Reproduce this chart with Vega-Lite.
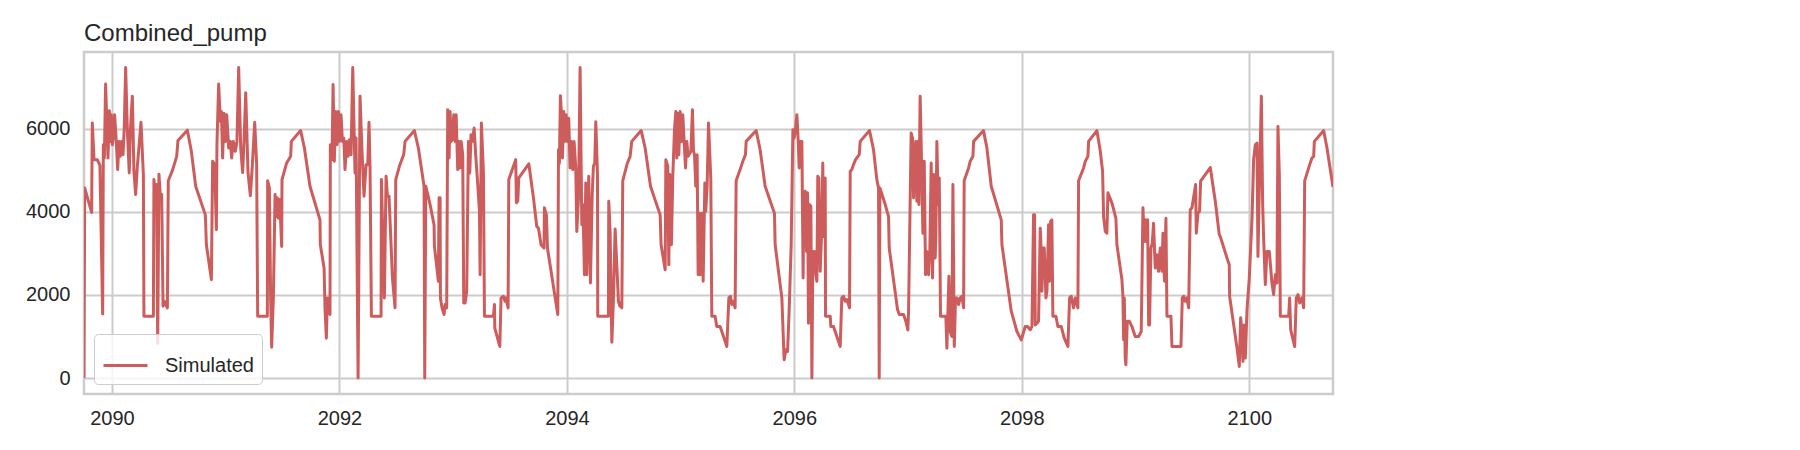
{
  "$schema": "https://vega.github.io/schema/vega-lite/v6.json",
  "autosize": "none",
  "width": 1249,
  "height": 342,
  "padding": {"left": 84, "top": 52, "right": 467, "bottom": 56},
  "background": "white",
  "title": {
    "text": "Combined_pump",
    "anchor": "start",
    "frame": "group",
    "baseline": "alphabetic",
    "offset": 10,
    "dy": 23,
    "fontSize": 24,
    "fontWeight": "normal",
    "font": "Liberation Sans",
    "color": "#262626"
  },
  "data": {
    "values": [
      {"time": 2089.754, "value": 0}, {"time": 2089.760, "value": 4580}, {"time": 2089.821, "value": 3990},
      {"time": 2089.827, "value": 6140}, {"time": 2089.842, "value": 5260}, {"time": 2089.871, "value": 5260},
      {"time": 2089.894, "value": 5120}, {"time": 2089.918, "value": 1540}, {"time": 2089.924, "value": 5620},
      {"time": 2089.933, "value": 5300}, {"time": 2089.944, "value": 7080}, {"time": 2089.965, "value": 5300},
      {"time": 2089.977, "value": 6440}, {"time": 2089.985, "value": 5700}, {"time": 2089.994, "value": 6340},
      {"time": 2090.003, "value": 5620}, {"time": 2090.009, "value": 5740}, {"time": 2090.023, "value": 6340},
      {"time": 2090.038, "value": 5700}, {"time": 2090.050, "value": 5020}, {"time": 2090.062, "value": 5700},
      {"time": 2090.073, "value": 5340}, {"time": 2090.085, "value": 5700}, {"time": 2090.097, "value": 5380},
      {"time": 2090.108, "value": 6020}, {"time": 2090.120, "value": 7480}, {"time": 2090.135, "value": 5980},
      {"time": 2090.152, "value": 4940}, {"time": 2090.161, "value": 5940}, {"time": 2090.179, "value": 6790},
      {"time": 2090.193, "value": 4980}, {"time": 2090.208, "value": 4420}, {"time": 2090.223, "value": 5100},
      {"time": 2090.255, "value": 6160}, {"time": 2090.276, "value": 4900}, {"time": 2090.281, "value": 1490},
      {"time": 2090.364, "value": 1490}, {"time": 2090.369, "value": 4780}, {"time": 2090.381, "value": 4260},
      {"time": 2090.393, "value": 4660}, {"time": 2090.402, "value": 830}, {"time": 2090.413, "value": 4910},
      {"time": 2090.425, "value": 4380}, {"time": 2090.437, "value": 4420}, {"time": 2090.449, "value": 1730},
      {"time": 2090.460, "value": 1850}, {"time": 2090.487, "value": 1690}, {"time": 2090.495, "value": 4750},
      {"time": 2090.534, "value": 5020}, {"time": 2090.569, "value": 5340}, {"time": 2090.580, "value": 5720},
      {"time": 2090.663, "value": 5970}, {"time": 2090.698, "value": 5460}, {"time": 2090.736, "value": 4620},
      {"time": 2090.821, "value": 3930}, {"time": 2090.830, "value": 3210}, {"time": 2090.874, "value": 2370},
      {"time": 2090.885, "value": 5220}, {"time": 2090.903, "value": 5140}, {"time": 2090.918, "value": 3570},
      {"time": 2090.923, "value": 5620}, {"time": 2090.938, "value": 7080}, {"time": 2090.953, "value": 6180},
      {"time": 2090.962, "value": 6420}, {"time": 2090.973, "value": 5300}, {"time": 2090.985, "value": 6380},
      {"time": 2090.997, "value": 5700}, {"time": 2091.009, "value": 6340}, {"time": 2091.026, "value": 5540},
      {"time": 2091.041, "value": 5700}, {"time": 2091.052, "value": 5300}, {"time": 2091.067, "value": 5700},
      {"time": 2091.085, "value": 5460}, {"time": 2091.099, "value": 5700}, {"time": 2091.114, "value": 7480},
      {"time": 2091.132, "value": 5540}, {"time": 2091.149, "value": 4950}, {"time": 2091.161, "value": 5700},
      {"time": 2091.176, "value": 6870}, {"time": 2091.196, "value": 4950}, {"time": 2091.217, "value": 4390},
      {"time": 2091.234, "value": 5120}, {"time": 2091.255, "value": 6160}, {"time": 2091.272, "value": 5140},
      {"time": 2091.281, "value": 1490}, {"time": 2091.366, "value": 1490}, {"time": 2091.369, "value": 4750},
      {"time": 2091.384, "value": 4580}, {"time": 2091.395, "value": 1930}, {"time": 2091.404, "value": 740},
      {"time": 2091.419, "value": 1930}, {"time": 2091.434, "value": 4420}, {"time": 2091.442, "value": 3890},
      {"time": 2091.454, "value": 4340}, {"time": 2091.463, "value": 3850}, {"time": 2091.475, "value": 4300},
      {"time": 2091.492, "value": 3170}, {"time": 2091.495, "value": 4780}, {"time": 2091.536, "value": 5180},
      {"time": 2091.571, "value": 5340}, {"time": 2091.577, "value": 5700}, {"time": 2091.659, "value": 5960},
      {"time": 2091.692, "value": 5540}, {"time": 2091.741, "value": 4620}, {"time": 2091.829, "value": 3810},
      {"time": 2091.832, "value": 3210}, {"time": 2091.865, "value": 2650}, {"time": 2091.873, "value": 1690},
      {"time": 2091.885, "value": 960}, {"time": 2091.894, "value": 1930}, {"time": 2091.909, "value": 1850},
      {"time": 2091.917, "value": 1530}, {"time": 2091.920, "value": 5620}, {"time": 2091.935, "value": 5260},
      {"time": 2091.944, "value": 7070}, {"time": 2091.955, "value": 5220}, {"time": 2091.967, "value": 6420},
      {"time": 2091.979, "value": 5620}, {"time": 2091.991, "value": 6420}, {"time": 2091.999, "value": 5700},
      {"time": 2092.014, "value": 6340}, {"time": 2092.026, "value": 5700}, {"time": 2092.038, "value": 5780},
      {"time": 2092.049, "value": 5020}, {"time": 2092.064, "value": 5700}, {"time": 2092.076, "value": 5340},
      {"time": 2092.087, "value": 5740}, {"time": 2092.102, "value": 5380}, {"time": 2092.117, "value": 7480},
      {"time": 2092.137, "value": 4940}, {"time": 2092.146, "value": 5780}, {"time": 2092.164, "value": 0},
      {"time": 2092.181, "value": 6790}, {"time": 2092.196, "value": 5620}, {"time": 2092.216, "value": 4380},
      {"time": 2092.234, "value": 5140}, {"time": 2092.249, "value": 5140}, {"time": 2092.260, "value": 6160},
      {"time": 2092.269, "value": 5060}, {"time": 2092.281, "value": 1490}, {"time": 2092.366, "value": 1490},
      {"time": 2092.369, "value": 4780}, {"time": 2092.395, "value": 1930}, {"time": 2092.410, "value": 4860},
      {"time": 2092.422, "value": 4380}, {"time": 2092.436, "value": 4380}, {"time": 2092.466, "value": 2410},
      {"time": 2092.489, "value": 1690}, {"time": 2092.495, "value": 4780}, {"time": 2092.527, "value": 5100},
      {"time": 2092.548, "value": 5260}, {"time": 2092.565, "value": 5380}, {"time": 2092.577, "value": 5700},
      {"time": 2092.659, "value": 5960}, {"time": 2092.694, "value": 5540}, {"time": 2092.744, "value": 4620},
      {"time": 2092.750, "value": 0}, {"time": 2092.759, "value": 4620}, {"time": 2092.797, "value": 4180},
      {"time": 2092.826, "value": 3770}, {"time": 2092.832, "value": 3690}, {"time": 2092.835, "value": 3170},
      {"time": 2092.870, "value": 2330}, {"time": 2092.876, "value": 4340}, {"time": 2092.885, "value": 4340},
      {"time": 2092.888, "value": 1930}, {"time": 2092.902, "value": 1690}, {"time": 2092.920, "value": 1530},
      {"time": 2092.929, "value": 1770}, {"time": 2092.943, "value": 1690}, {"time": 2092.952, "value": 6460},
      {"time": 2092.964, "value": 5300}, {"time": 2092.973, "value": 6420}, {"time": 2092.982, "value": 5700},
      {"time": 2092.993, "value": 5740}, {"time": 2093.005, "value": 6340}, {"time": 2093.017, "value": 5700},
      {"time": 2093.026, "value": 6340}, {"time": 2093.040, "value": 5020}, {"time": 2093.052, "value": 5700},
      {"time": 2093.061, "value": 5060}, {"time": 2093.070, "value": 5700}, {"time": 2093.084, "value": 5380},
      {"time": 2093.093, "value": 1810}, {"time": 2093.105, "value": 1810}, {"time": 2093.119, "value": 2090},
      {"time": 2093.134, "value": 5700}, {"time": 2093.146, "value": 4940}, {"time": 2093.157, "value": 5860},
      {"time": 2093.169, "value": 5700}, {"time": 2093.184, "value": 6020}, {"time": 2093.198, "value": 5380},
      {"time": 2093.216, "value": 4660}, {"time": 2093.231, "value": 4020}, {"time": 2093.237, "value": 2490},
      {"time": 2093.248, "value": 6140}, {"time": 2093.266, "value": 4940}, {"time": 2093.275, "value": 1490},
      {"time": 2093.354, "value": 1490}, {"time": 2093.363, "value": 1770}, {"time": 2093.366, "value": 1200},
      {"time": 2093.410, "value": 760}, {"time": 2093.421, "value": 1930}, {"time": 2093.442, "value": 1970},
      {"time": 2093.456, "value": 1850}, {"time": 2093.465, "value": 1930}, {"time": 2093.483, "value": 1690},
      {"time": 2093.489, "value": 4780}, {"time": 2093.550, "value": 5260}, {"time": 2093.556, "value": 4220},
      {"time": 2093.568, "value": 4260}, {"time": 2093.577, "value": 4820}, {"time": 2093.665, "value": 5160},
      {"time": 2093.706, "value": 4340}, {"time": 2093.735, "value": 3650}, {"time": 2093.750, "value": 3610},
      {"time": 2093.773, "value": 3210}, {"time": 2093.799, "value": 3130}, {"time": 2093.802, "value": 4100},
      {"time": 2093.820, "value": 3930}, {"time": 2093.829, "value": 3130}, {"time": 2093.920, "value": 1530},
      {"time": 2093.926, "value": 5500}, {"time": 2093.934, "value": 5170}, {"time": 2093.943, "value": 6800},
      {"time": 2093.955, "value": 6220}, {"time": 2093.961, "value": 5300}, {"time": 2093.972, "value": 6420},
      {"time": 2093.981, "value": 5700}, {"time": 2093.993, "value": 6340}, {"time": 2094.005, "value": 5700},
      {"time": 2094.016, "value": 6260}, {"time": 2094.028, "value": 5060}, {"time": 2094.040, "value": 5700},
      {"time": 2094.052, "value": 5020}, {"time": 2094.063, "value": 5700}, {"time": 2094.078, "value": 5060},
      {"time": 2094.087, "value": 3530}, {"time": 2094.102, "value": 4340}, {"time": 2094.116, "value": 7480},
      {"time": 2094.131, "value": 3690}, {"time": 2094.140, "value": 4180}, {"time": 2094.148, "value": 3290},
      {"time": 2094.154, "value": 2490}, {"time": 2094.166, "value": 4700}, {"time": 2094.175, "value": 2490},
      {"time": 2094.192, "value": 4860}, {"time": 2094.207, "value": 2290}, {"time": 2094.222, "value": 4380},
      {"time": 2094.233, "value": 5100}, {"time": 2094.245, "value": 5180}, {"time": 2094.254, "value": 6170},
      {"time": 2094.269, "value": 4900}, {"time": 2094.271, "value": 1490}, {"time": 2094.365, "value": 1490},
      {"time": 2094.368, "value": 4260}, {"time": 2094.380, "value": 3510}, {"time": 2094.395, "value": 860},
      {"time": 2094.409, "value": 1900}, {"time": 2094.424, "value": 3590}, {"time": 2094.439, "value": 2710},
      {"time": 2094.453, "value": 1850}, {"time": 2094.465, "value": 1730}, {"time": 2094.474, "value": 1810},
      {"time": 2094.483, "value": 1690}, {"time": 2094.491, "value": 4750}, {"time": 2094.532, "value": 5180},
      {"time": 2094.556, "value": 5340}, {"time": 2094.570, "value": 5700}, {"time": 2094.653, "value": 5960},
      {"time": 2094.688, "value": 5540}, {"time": 2094.735, "value": 4620}, {"time": 2094.820, "value": 3930},
      {"time": 2094.828, "value": 3210}, {"time": 2094.864, "value": 2610}, {"time": 2094.870, "value": 5260},
      {"time": 2094.887, "value": 5100}, {"time": 2094.896, "value": 2730}, {"time": 2094.905, "value": 4900},
      {"time": 2094.919, "value": 3210}, {"time": 2094.931, "value": 4860}, {"time": 2094.946, "value": 5980},
      {"time": 2094.958, "value": 6420}, {"time": 2094.966, "value": 5300}, {"time": 2094.975, "value": 6380},
      {"time": 2094.984, "value": 5380}, {"time": 2094.996, "value": 6420}, {"time": 2095.007, "value": 5700},
      {"time": 2095.019, "value": 6340}, {"time": 2095.031, "value": 5700}, {"time": 2095.043, "value": 5060},
      {"time": 2095.054, "value": 5700}, {"time": 2095.066, "value": 5340}, {"time": 2095.090, "value": 5460},
      {"time": 2095.104, "value": 6460}, {"time": 2095.113, "value": 5460}, {"time": 2095.122, "value": 5380},
      {"time": 2095.133, "value": 4620}, {"time": 2095.145, "value": 5380}, {"time": 2095.154, "value": 2490},
      {"time": 2095.166, "value": 3970}, {"time": 2095.174, "value": 2490}, {"time": 2095.189, "value": 3970},
      {"time": 2095.198, "value": 2330}, {"time": 2095.213, "value": 4700}, {"time": 2095.221, "value": 4020},
      {"time": 2095.233, "value": 4620}, {"time": 2095.245, "value": 6140}, {"time": 2095.265, "value": 4820},
      {"time": 2095.274, "value": 1490}, {"time": 2095.303, "value": 1490}, {"time": 2095.318, "value": 1240},
      {"time": 2095.347, "value": 1240}, {"time": 2095.377, "value": 1000}, {"time": 2095.406, "value": 760},
      {"time": 2095.424, "value": 1930}, {"time": 2095.438, "value": 1970}, {"time": 2095.450, "value": 1770},
      {"time": 2095.462, "value": 1850}, {"time": 2095.479, "value": 1690}, {"time": 2095.488, "value": 4750},
      {"time": 2095.523, "value": 5020}, {"time": 2095.547, "value": 5220}, {"time": 2095.570, "value": 5380},
      {"time": 2095.576, "value": 5700}, {"time": 2095.664, "value": 5960}, {"time": 2095.699, "value": 5500},
      {"time": 2095.743, "value": 4620}, {"time": 2095.825, "value": 3970}, {"time": 2095.831, "value": 3210},
      {"time": 2095.890, "value": 1930}, {"time": 2095.910, "value": 440}, {"time": 2095.913, "value": 480},
      {"time": 2095.925, "value": 680}, {"time": 2095.940, "value": 640}, {"time": 2095.954, "value": 1610},
      {"time": 2095.972, "value": 3210}, {"time": 2095.987, "value": 5980}, {"time": 2095.998, "value": 5780},
      {"time": 2096.010, "value": 5980}, {"time": 2096.022, "value": 6340}, {"time": 2096.034, "value": 5700},
      {"time": 2096.042, "value": 5060}, {"time": 2096.054, "value": 5700}, {"time": 2096.066, "value": 5700},
      {"time": 2096.077, "value": 2410}, {"time": 2096.083, "value": 4460}, {"time": 2096.095, "value": 4500},
      {"time": 2096.107, "value": 3050}, {"time": 2096.116, "value": 4460}, {"time": 2096.124, "value": 1320},
      {"time": 2096.133, "value": 4180}, {"time": 2096.145, "value": 4140}, {"time": 2096.154, "value": 0},
      {"time": 2096.163, "value": 3050}, {"time": 2096.171, "value": 2570}, {"time": 2096.180, "value": 3050},
      {"time": 2096.189, "value": 2490}, {"time": 2096.198, "value": 2330}, {"time": 2096.206, "value": 4860},
      {"time": 2096.215, "value": 4820}, {"time": 2096.227, "value": 2570}, {"time": 2096.239, "value": 3450},
      {"time": 2096.250, "value": 5180}, {"time": 2096.256, "value": 3410}, {"time": 2096.271, "value": 4820},
      {"time": 2096.274, "value": 1490}, {"time": 2096.315, "value": 1490}, {"time": 2096.321, "value": 1240},
      {"time": 2096.344, "value": 1240}, {"time": 2096.359, "value": 1120}, {"time": 2096.403, "value": 760},
      {"time": 2096.417, "value": 1930}, {"time": 2096.432, "value": 1970}, {"time": 2096.447, "value": 1850},
      {"time": 2096.461, "value": 1890}, {"time": 2096.485, "value": 1690}, {"time": 2096.491, "value": 4980},
      {"time": 2096.505, "value": 5020}, {"time": 2096.520, "value": 5140}, {"time": 2096.538, "value": 5260},
      {"time": 2096.570, "value": 5380}, {"time": 2096.579, "value": 5700}, {"time": 2096.661, "value": 5960},
      {"time": 2096.696, "value": 5500}, {"time": 2096.725, "value": 4780}, {"time": 2096.740, "value": 4580},
      {"time": 2096.746, "value": 0}, {"time": 2096.752, "value": 4580}, {"time": 2096.790, "value": 4260},
      {"time": 2096.828, "value": 3890}, {"time": 2096.834, "value": 3130}, {"time": 2096.907, "value": 1650},
      {"time": 2096.922, "value": 1530}, {"time": 2096.960, "value": 1530}, {"time": 2096.980, "value": 1370},
      {"time": 2096.998, "value": 1160}, {"time": 2097.004, "value": 1610}, {"time": 2097.027, "value": 5900},
      {"time": 2097.039, "value": 5780}, {"time": 2097.048, "value": 4340}, {"time": 2097.057, "value": 5300},
      {"time": 2097.068, "value": 5700}, {"time": 2097.077, "value": 4260}, {"time": 2097.086, "value": 5700},
      {"time": 2097.095, "value": 4180}, {"time": 2097.106, "value": 6790}, {"time": 2097.118, "value": 5220},
      {"time": 2097.130, "value": 3490}, {"time": 2097.142, "value": 5220}, {"time": 2097.153, "value": 2490},
      {"time": 2097.165, "value": 3050}, {"time": 2097.180, "value": 2490}, {"time": 2097.191, "value": 3050},
      {"time": 2097.203, "value": 5180}, {"time": 2097.215, "value": 2410}, {"time": 2097.227, "value": 4900},
      {"time": 2097.238, "value": 2890}, {"time": 2097.244, "value": 3410}, {"time": 2097.253, "value": 5700},
      {"time": 2097.265, "value": 4180}, {"time": 2097.274, "value": 4820}, {"time": 2097.285, "value": 1490},
      {"time": 2097.332, "value": 1490}, {"time": 2097.341, "value": 720}, {"time": 2097.359, "value": 2450},
      {"time": 2097.370, "value": 1120}, {"time": 2097.385, "value": 1000}, {"time": 2097.394, "value": 4660},
      {"time": 2097.406, "value": 760}, {"time": 2097.417, "value": 1930}, {"time": 2097.429, "value": 1930},
      {"time": 2097.444, "value": 1770}, {"time": 2097.458, "value": 1930}, {"time": 2097.473, "value": 1970},
      {"time": 2097.488, "value": 1690}, {"time": 2097.493, "value": 4750}, {"time": 2097.532, "value": 5060},
      {"time": 2097.546, "value": 5220}, {"time": 2097.570, "value": 5340}, {"time": 2097.576, "value": 5700},
      {"time": 2097.663, "value": 5960}, {"time": 2097.693, "value": 5540}, {"time": 2097.731, "value": 4620},
      {"time": 2097.819, "value": 3810}, {"time": 2097.825, "value": 3210}, {"time": 2097.907, "value": 1610},
      {"time": 2097.957, "value": 1120}, {"time": 2097.995, "value": 920}, {"time": 2098.030, "value": 1240},
      {"time": 2098.051, "value": 1240}, {"time": 2098.074, "value": 1160}, {"time": 2098.089, "value": 1240},
      {"time": 2098.103, "value": 3930}, {"time": 2098.112, "value": 3930}, {"time": 2098.118, "value": 1280},
      {"time": 2098.133, "value": 1320}, {"time": 2098.147, "value": 1370}, {"time": 2098.162, "value": 3610},
      {"time": 2098.168, "value": 3210}, {"time": 2098.177, "value": 2090}, {"time": 2098.185, "value": 3130},
      {"time": 2098.197, "value": 3130}, {"time": 2098.212, "value": 1930}, {"time": 2098.221, "value": 2090},
      {"time": 2098.235, "value": 3690}, {"time": 2098.244, "value": 2330}, {"time": 2098.253, "value": 3770},
      {"time": 2098.264, "value": 3810}, {"time": 2098.273, "value": 1490}, {"time": 2098.300, "value": 1490},
      {"time": 2098.317, "value": 1240}, {"time": 2098.347, "value": 1240}, {"time": 2098.373, "value": 960},
      {"time": 2098.405, "value": 760}, {"time": 2098.420, "value": 1930}, {"time": 2098.434, "value": 1970},
      {"time": 2098.455, "value": 1690}, {"time": 2098.470, "value": 1930}, {"time": 2098.493, "value": 1690},
      {"time": 2098.499, "value": 4750}, {"time": 2098.543, "value": 5060}, {"time": 2098.558, "value": 5220},
      {"time": 2098.581, "value": 5340}, {"time": 2098.587, "value": 5700}, {"time": 2098.660, "value": 5960},
      {"time": 2098.690, "value": 5460}, {"time": 2098.710, "value": 4980}, {"time": 2098.719, "value": 3890},
      {"time": 2098.734, "value": 3530}, {"time": 2098.748, "value": 3490}, {"time": 2098.757, "value": 4460},
      {"time": 2098.792, "value": 4220}, {"time": 2098.827, "value": 3850}, {"time": 2098.836, "value": 3210},
      {"time": 2098.880, "value": 2370}, {"time": 2098.889, "value": 1970}, {"time": 2098.895, "value": 920},
      {"time": 2098.901, "value": 1930}, {"time": 2098.909, "value": 480}, {"time": 2098.915, "value": 320},
      {"time": 2098.927, "value": 1370}, {"time": 2098.945, "value": 1370}, {"time": 2098.968, "value": 1240},
      {"time": 2098.997, "value": 1000}, {"time": 2099.027, "value": 1000}, {"time": 2099.050, "value": 1120},
      {"time": 2099.065, "value": 4100}, {"time": 2099.076, "value": 3290}, {"time": 2099.085, "value": 3810},
      {"time": 2099.094, "value": 3290}, {"time": 2099.106, "value": 3810}, {"time": 2099.115, "value": 1280},
      {"time": 2099.123, "value": 1280}, {"time": 2099.135, "value": 3130}, {"time": 2099.147, "value": 3250},
      {"time": 2099.158, "value": 3730}, {"time": 2099.173, "value": 2650}, {"time": 2099.188, "value": 2970},
      {"time": 2099.202, "value": 2570}, {"time": 2099.217, "value": 3130}, {"time": 2099.232, "value": 2570},
      {"time": 2099.241, "value": 3490}, {"time": 2099.247, "value": 2810}, {"time": 2099.255, "value": 2330},
      {"time": 2099.267, "value": 3850}, {"time": 2099.276, "value": 1490}, {"time": 2099.311, "value": 1490},
      {"time": 2099.320, "value": 760}, {"time": 2099.399, "value": 760}, {"time": 2099.411, "value": 1930},
      {"time": 2099.423, "value": 1970}, {"time": 2099.437, "value": 1850}, {"time": 2099.452, "value": 1930},
      {"time": 2099.467, "value": 1690}, {"time": 2099.481, "value": 4060}, {"time": 2099.496, "value": 4100},
      {"time": 2099.528, "value": 4660}, {"time": 2099.534, "value": 3490}, {"time": 2099.549, "value": 3970},
      {"time": 2099.563, "value": 4020}, {"time": 2099.572, "value": 4740}, {"time": 2099.657, "value": 5070},
      {"time": 2099.701, "value": 4260}, {"time": 2099.736, "value": 3450}, {"time": 2099.745, "value": 3410},
      {"time": 2099.804, "value": 2890}, {"time": 2099.824, "value": 2730}, {"time": 2099.827, "value": 1970},
      {"time": 2099.892, "value": 720}, {"time": 2099.912, "value": 280}, {"time": 2099.924, "value": 1450},
      {"time": 2099.935, "value": 1160}, {"time": 2099.944, "value": 400}, {"time": 2099.956, "value": 1280},
      {"time": 2099.965, "value": 480}, {"time": 2099.980, "value": 1650}, {"time": 2100.000, "value": 2410},
      {"time": 2100.024, "value": 3850}, {"time": 2100.038, "value": 5260}, {"time": 2100.053, "value": 5620},
      {"time": 2100.068, "value": 5660}, {"time": 2100.076, "value": 2930}, {"time": 2100.085, "value": 4180},
      {"time": 2100.106, "value": 6790}, {"time": 2100.117, "value": 4260}, {"time": 2100.126, "value": 3370},
      {"time": 2100.141, "value": 2250}, {"time": 2100.155, "value": 3050}, {"time": 2100.176, "value": 3050},
      {"time": 2100.199, "value": 2290}, {"time": 2100.214, "value": 2010}, {"time": 2100.229, "value": 2490},
      {"time": 2100.243, "value": 2290}, {"time": 2100.252, "value": 6060}, {"time": 2100.264, "value": 4900},
      {"time": 2100.273, "value": 1490}, {"time": 2100.346, "value": 1490}, {"time": 2100.355, "value": 1930},
      {"time": 2100.364, "value": 1160}, {"time": 2100.399, "value": 760}, {"time": 2100.413, "value": 1930},
      {"time": 2100.428, "value": 2010}, {"time": 2100.443, "value": 1810}, {"time": 2100.463, "value": 1930},
      {"time": 2100.478, "value": 1690}, {"time": 2100.487, "value": 4750}, {"time": 2100.531, "value": 5140},
      {"time": 2100.551, "value": 5300}, {"time": 2100.566, "value": 5340}, {"time": 2100.572, "value": 5700},
      {"time": 2100.654, "value": 5960}, {"time": 2100.683, "value": 5540}, {"time": 2100.736, "value": 4600}
    ]
  },
  "mark": {"type": "line", "strokeWidth": 3, "clip": true, "strokeJoin": "round"},
  "encoding": {
    "x": {
      "field": "time",
      "type": "quantitative",
      "scale": {"domain": [2089.754, 2100.736], "nice": false, "zero": false},
      "axis": {
        "title": null,
        "values": [2090, 2092, 2094, 2096, 2098, 2100],
        "format": "d",
        "labelPadding": 14
      }
    },
    "y": {
      "field": "value",
      "type": "quantitative",
      "scale": {"domain": [-385, 7853], "nice": false, "zero": false},
      "axis": {
        "title": null,
        "values": [0, 2000, 4000, 6000],
        "format": "d",
        "labelPadding": 14
      }
    },
    "color": {
      "datum": "Simulated",
      "type": "nominal",
      "scale": {"range": ["#cd5c5c"]},
      "legend": {
        "title": null,
        "orient": "bottom-left",
        "offset": 10,
        "padding": 8,
        "strokeColor": "#cccccc",
        "fillColor": "rgba(255,255,255,0.8)",
        "cornerRadius": 4,
        "symbolType": "stroke",
        "symbolSize": 1936,
        "symbolStrokeWidth": 3,
        "labelFontSize": 20,
        "labelOffset": 16,
        "labelFont": "Liberation Sans",
        "labelColor": "#262626"
      }
    }
  },
  "config": {
    "view": {"stroke": "#cccccc", "strokeWidth": 2.5},
    "axis": {
      "domain": false,
      "ticks": false,
      "grid": true,
      "gridColor": "#cccccc",
      "gridWidth": 2,
      "labelFont": "Liberation Sans",
      "labelFontSize": 20,
      "labelColor": "#262626"
    }
  }
}
